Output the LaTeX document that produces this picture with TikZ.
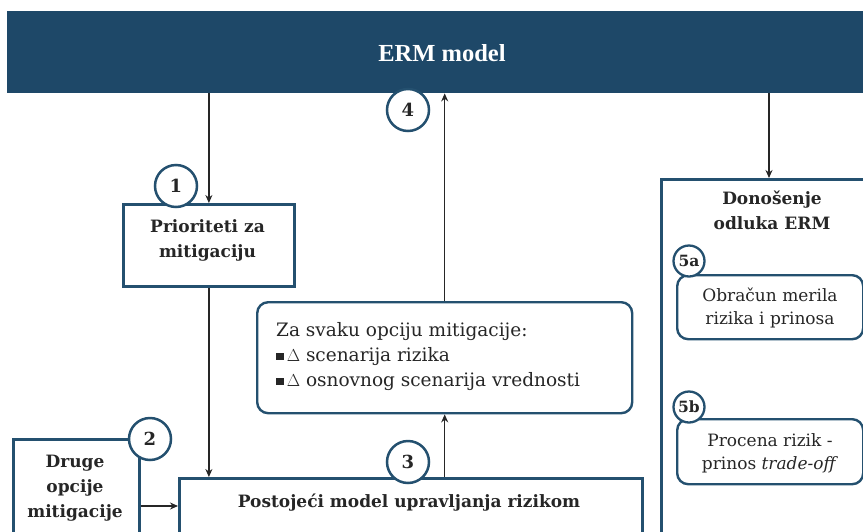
\documentclass[tikz,border=0pt]{standalone}
\usepackage{fontspec}
\setmainfont{DejaVu Serif}
\newfontfamily\bannerfont{Liberation Serif}
\usetikzlibrary{arrows.meta,calc}
\definecolor{ermblue}{HTML}{1E4868}
\definecolor{bordblue}{HTML}{24506F}
\definecolor{txt}{HTML}{262626}
\begin{document}
\begin{tikzpicture}[x=1pt,y=-1pt,
  box/.style={draw=bordblue,line width=2.8pt,fill=white,anchor=north west,inner sep=0pt},
  rbox/.style={draw=bordblue,line width=2.4pt,fill=white,rounded corners=11pt,anchor=north west,inner sep=0pt},
  num/.style={circle,draw=bordblue,line width=2.5pt,fill=white,minimum size=42pt,inner sep=0pt,font=\fontsize{18}{18}\selectfont\bfseries,text=txt},
  snum/.style={circle,draw=bordblue,line width=2.3pt,fill=white,minimum size=31pt,inner sep=0pt,font=\fontsize{15.5}{15.5}\selectfont\bfseries,text=txt},
  arr/.style={draw=black!85,line width=1.5pt,-{Stealth[length=8pt,width=7pt]}},
  btxt/.style={font=\fontsize{17}{25}\selectfont\bfseries,text=txt,align=center},
  ntxt/.style={font=\fontsize{17}{23}\selectfont,text=txt,align=center}]
\useasboundingbox (0,0) rectangle (863,531);
\fill[white] (0,0) rectangle (863,531);

% banner
\node[fill=ermblue,anchor=north west,minimum width=870pt,minimum height=82pt,inner sep=0pt] (banner) at (7,11) {};
\node[font=\bannerfont\fontsize{24.5}{24.5}\selectfont\bfseries,text=white] (bantxt) at (442,53) {ERM model};

% boxes
\node[box,minimum width=171pt,minimum height=82pt] (prio) at (122,203) {};
\node[btxt] (priotxt) at (207.5,240) {Prioriteti za\\mitigaciju};

\node[rbox,minimum width=375pt,minimum height=111pt] (opt) at (256,301) {};
\node[anchor=north west,font=\fontsize{18.5}{25}\selectfont,text=txt,align=left,inner sep=0pt] (opttxt) at (276,322)
 {Za svaku opciju mitigacije:\\
  \raisebox{1pt}{\rule{7.5pt}{7.5pt}}\,$\Delta$ scenarija rizika\\
  \raisebox{1pt}{\rule{7.5pt}{7.5pt}}\,$\Delta$ osnovnog scenarija vrednosti};

\node[box,minimum width=463pt,minimum height=90pt] (post) at (178,477) {};
\node[btxt] (posttxt) at (409,503) {Postojeći model upravljanja rizikom};

\node[box,minimum width=126pt,minimum height=120pt] (druge) at (12,438) {};
\node[btxt] (drugetxt) at (75,488) {Druge\\opcije\\mitigacije};

\node[box,minimum width=230pt,minimum height=380pt] (don) at (660,178) {};
\node[btxt] (dontxt) at (772,210) {Donošenje\\odluka ERM};

\node[rbox,minimum width=186pt,minimum height=64pt] (b5a) at (676,274) {};
\node[ntxt] (t5a) at (770,308) {Obračun merila\\rizika i prinosa};
\node[rbox,minimum width=186pt,minimum height=65pt] (b5b) at (676,418) {};
\node[ntxt] (t5b) at (770,453) {Procena rizik -\\prinos \textit{trade-off}};

% connectors
\coordinate (dx) at (769,0);
\coordinate (ay) at (0,506);
\draw[arr] (banner.south -| prio.north) -- (prio.north);
\draw[arr] (prio.south) -- (prio.south |- post.north);
\draw[arr] (opt.south |- post.north) -- (opt.south);
\draw[arr] (opt.north) -- (opt.north |- banner.south);
\draw[arr] (banner.south -| dx) -- (don.north -| dx);
\draw[arr] (druge.east |- ay) -- (post.west |- ay);

% numbers
\node[num] (c1) at (176,186) {1};
\node[num] (c2) at (150,439) {2};
\node[num] (c3) at (408,462) {3};
\node[num] (c4) at (408,110) {4};
\node[snum] (c5a) at (689,261) {5a};
\node[snum] (c5b) at (689,407) {5b};
\end{tikzpicture}
\end{document}
